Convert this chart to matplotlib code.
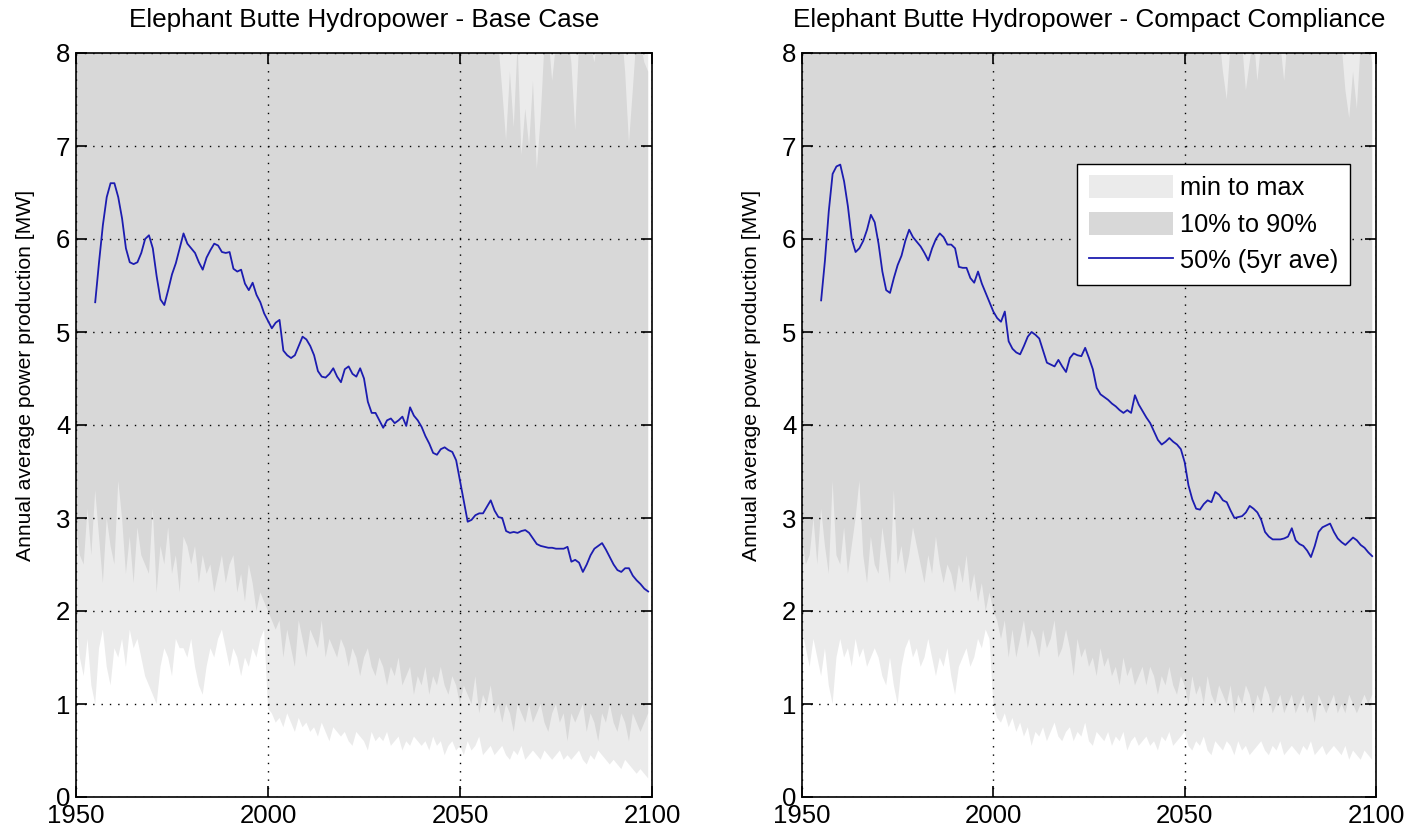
import matplotlib
matplotlib.use('Agg')
import matplotlib.pyplot as plt
from matplotlib.patches import Patch
from matplotlib.lines import Line2D

plt.rcParams['font.family'] = ['Liberation Sans', 'DejaVu Sans']

# 年份
band_years = list(range(1950, 2100))
line_years = list(range(1955, 2100))

# ---------------- Base Case ----------------
base_median = [
    5.32, 5.75, 6.15, 6.45, 6.60,
    6.60, 6.45, 6.22, 5.90, 5.75, 5.73, 5.75, 5.85, 6.00, 6.04,
    5.90, 5.60, 5.35, 5.29, 5.45, 5.62, 5.74, 5.90, 6.06, 5.95,
    5.90, 5.85, 5.75, 5.67, 5.80, 5.88, 5.95, 5.93, 5.86, 5.85,
    5.86, 5.68, 5.65, 5.67, 5.52, 5.45, 5.53, 5.40, 5.32, 5.20,
    5.12, 5.04, 5.10, 5.13, 4.80, 4.75, 4.72, 4.75, 4.85, 4.95,
    4.92, 4.85, 4.75, 4.58, 4.52, 4.51, 4.55, 4.61, 4.52, 4.46,
    4.60, 4.63, 4.55, 4.52, 4.61, 4.50, 4.25, 4.13, 4.13, 4.05,
    3.97, 4.05, 4.07, 4.02, 4.05, 4.09, 3.99, 4.19, 4.10, 4.05,
    3.98, 3.88, 3.80, 3.70, 3.68, 3.74, 3.76, 3.73, 3.71, 3.62,
    3.40, 3.18, 2.96, 2.98, 3.03, 3.05, 3.05, 3.12, 3.19, 3.08,
    3.01, 3.00, 2.86, 2.84, 2.85, 2.84, 2.86, 2.87, 2.84, 2.78,
    2.72, 2.70, 2.69, 2.68, 2.68, 2.67, 2.67, 2.67, 2.69, 2.53,
    2.55, 2.52, 2.42, 2.50, 2.60, 2.67, 2.70, 2.73, 2.66, 2.58,
    2.50, 2.44, 2.42, 2.46, 2.46, 2.38, 2.33, 2.29, 2.24, 2.21,
]
base_min = [
    1.9, 1.5, 1.3, 1.7, 1.2, 1.0, 1.6, 1.8, 1.4, 1.2,
    1.6, 1.5, 1.7, 1.4, 1.8, 1.6, 1.7, 1.5, 1.3, 1.2,
    1.1, 1.0, 1.4, 1.6, 1.5, 1.3, 1.7, 1.6, 1.6, 1.5,
    1.7, 1.4, 1.2, 1.1, 1.4, 1.6, 1.5, 1.7, 1.8, 1.6,
    1.4, 1.6, 1.5, 1.3, 1.5, 1.4, 1.6, 1.5, 1.7, 1.8,
    0.95, 0.9, 0.8, 0.85, 0.75, 0.9, 0.8, 0.7, 0.85, 0.75,
    0.8, 0.7, 0.75, 0.65, 0.8, 0.7, 0.6, 0.75, 0.7, 0.65,
    0.7, 0.6, 0.55, 0.7, 0.65, 0.6, 0.5, 0.7, 0.6, 0.65,
    0.6, 0.7, 0.55, 0.6, 0.65, 0.5, 0.6, 0.55, 0.65, 0.6,
    0.55, 0.6, 0.5, 0.65, 0.55, 0.6, 0.45, 0.55, 0.6, 0.5,
    0.55, 0.45, 0.6, 0.5, 0.55, 0.65, 0.45, 0.5, 0.55, 0.45,
    0.5, 0.55, 0.45, 0.4, 0.5, 0.45, 0.55, 0.4, 0.45, 0.5,
    0.45, 0.4, 0.5, 0.45, 0.4, 0.45, 0.5, 0.4, 0.45, 0.4,
    0.45, 0.5, 0.4, 0.35, 0.45, 0.4, 0.5, 0.45, 0.4, 0.35,
    0.4, 0.35, 0.3, 0.4, 0.35, 0.3, 0.25, 0.3, 0.25, 0.2,
]
base_p10 = [
    2.9, 2.6, 2.5, 3.1, 2.6, 3.3, 2.8, 2.3, 3.0, 2.7,
    2.5, 3.4, 3.0, 2.4, 2.8, 2.3, 2.9, 2.6, 2.5, 2.4,
    3.1, 2.2, 2.7, 2.5, 2.9, 2.4, 2.6, 2.2, 2.8, 2.7,
    2.5, 2.7, 2.3, 2.6, 2.4, 2.5, 2.2, 2.4, 2.6, 2.3,
    2.5, 2.6, 2.2, 2.4, 2.1, 2.5, 2.3, 2.0, 2.2, 2.1,
    2.0, 1.9, 1.8, 1.9, 1.5, 1.8, 1.6, 1.4, 1.9, 1.7,
    1.5, 1.8, 1.7, 1.6, 1.9, 1.5, 1.7, 1.6, 1.5, 1.7,
    1.6, 1.4, 1.6, 1.5, 1.3, 1.5, 1.6, 1.4, 1.3, 1.5,
    1.4, 1.2, 1.4, 1.3, 1.5, 1.2, 1.3, 1.4, 1.1, 1.3,
    1.2, 1.4, 1.1, 1.3, 1.2, 1.4, 1.2, 1.1, 1.3, 1.2,
    1.0, 1.2, 1.1, 1.0, 1.3, 0.9, 1.1, 1.0, 1.2, 0.9,
    1.0, 0.8, 1.0, 0.9, 0.7, 1.0, 0.9, 0.8, 1.0, 0.8,
    0.9, 1.0, 0.8, 0.7, 0.9, 1.0, 0.8, 0.9, 0.6, 0.9,
    0.8, 0.9, 1.0, 0.7, 0.9, 0.8, 0.6, 0.9, 0.8, 1.0,
    0.8, 0.7, 0.9, 0.8, 0.6, 0.9, 0.8, 0.7, 0.8, 0.9,
]
base_p90 = [
    9.1, 8.8, 9.4, 8.9, 9.2, 9.6, 9.0, 8.7, 9.3, 9.5,
    9.8, 9.4, 9.1, 9.6, 9.2, 9.0, 9.3, 8.9, 9.1, 9.4,
    9.0, 8.8, 9.2, 8.9, 9.1, 8.7, 9.0, 9.3, 8.8, 8.9,
    9.1, 8.8, 8.6, 8.9, 9.2, 8.7, 8.9, 8.6, 8.8, 8.5,
    8.7, 8.9, 8.6, 8.8, 8.5, 8.7, 8.6, 8.9, 8.5, 8.7,
    8.6, 8.8, 8.5, 8.7, 8.4, 8.6, 8.5, 8.8, 8.6, 8.4,
    8.7, 8.5, 8.6, 8.3, 8.5, 8.7, 8.4, 8.6, 8.3, 8.5,
    8.4, 8.6, 8.3, 8.5, 8.2, 8.4, 8.6, 8.3, 8.5, 8.2,
    8.4, 8.3, 8.5, 8.2, 8.4, 8.3, 8.1, 8.4, 8.2, 8.3,
    8.2, 8.4, 8.1, 8.3, 8.2, 8.4, 8.1, 8.3, 8.2, 8.1,
    8.3, 8.1, 8.2, 8.4, 8.1, 8.3, 8.2, 8.1, 8.3, 8.1,
    8.1, 7.6, 7.06, 7.8, 7.2, 8.1, 6.9, 7.4, 7.0, 7.7,
    6.75, 7.3, 8.1, 8.2, 7.7, 8.1, 8.3, 8.1, 8.2, 7.9,
    7.17, 8.1, 8.2, 8.3, 8.1, 7.9, 8.2, 8.1, 8.3, 8.2,
    8.1, 8.2, 8.3, 7.8, 7.03, 7.6, 8.2, 8.1, 7.9, 7.8,
]
base_max = [
    11.2, 10.8, 11.5, 10.9, 11.3, 11.8, 11.0, 10.6, 11.4, 11.6,
    12.0, 11.5, 11.1, 11.7, 11.2, 10.9, 11.3, 10.8, 11.0, 11.4,
    10.9, 10.6, 11.1, 10.7, 11.0, 10.5, 10.8, 11.2, 10.6, 10.7,
    10.9, 10.5, 10.3, 10.7, 11.0, 10.4, 10.6, 10.2, 10.5, 10.1,
    10.4, 10.6, 10.2, 10.5, 10.1, 10.3, 10.2, 10.5, 10.0, 10.3,
    10.1, 10.4, 10.0, 10.2, 9.9, 10.1, 10.0, 10.3, 10.1, 9.8,
    10.2, 9.9, 10.1, 9.7, 9.9, 10.2, 9.8, 10.0, 9.7, 9.9,
    9.8, 10.0, 9.6, 9.9, 9.5, 9.8, 10.0, 9.6, 9.9, 9.5,
    9.7, 9.6, 9.9, 9.5, 9.7, 9.6, 9.4, 9.7, 9.5, 9.6,
    9.5, 9.7, 9.4, 9.6, 9.5, 9.7, 9.3, 9.6, 9.4, 9.3,
    9.6, 9.3, 9.5, 9.7, 9.3, 9.6, 9.4, 9.3, 9.5, 9.3,
    9.4, 9.2, 9.3, 9.5, 9.2, 9.4, 9.1, 9.3, 9.2, 9.4,
    9.0, 9.3, 9.4, 9.5, 9.2, 9.4, 9.5, 9.3, 9.4, 9.2,
    9.1, 9.3, 9.4, 9.5, 9.3, 9.2, 9.4, 9.3, 9.5, 9.4,
    9.3, 9.4, 9.5, 9.2, 9.1, 9.2, 9.4, 9.3, 9.2, 9.1,
]

# ---------------- Compact Compliance ----------------
cc_median = [
    5.34, 5.77, 6.30, 6.70, 6.78,
    6.80, 6.62, 6.35, 6.00, 5.86, 5.90, 5.98, 6.10, 6.26, 6.18,
    5.95, 5.65, 5.45, 5.42, 5.58, 5.72, 5.82, 5.98, 6.10, 6.02,
    5.97, 5.92, 5.85, 5.77, 5.90, 6.00, 6.06, 6.02, 5.94, 5.94,
    5.90, 5.70, 5.69, 5.69, 5.58, 5.53, 5.65, 5.52, 5.42, 5.32,
    5.22, 5.15, 5.11, 5.22, 4.90, 4.82, 4.78, 4.76, 4.85, 4.95,
    5.00, 4.97, 4.93, 4.80, 4.67, 4.65, 4.63, 4.70, 4.63, 4.57,
    4.72, 4.77, 4.75, 4.74, 4.83, 4.72, 4.60, 4.40, 4.33, 4.30,
    4.27, 4.23, 4.20, 4.16, 4.13, 4.16, 4.13, 4.32, 4.22, 4.15,
    4.08, 4.02, 3.93, 3.84, 3.79, 3.82, 3.86, 3.82, 3.79, 3.74,
    3.60, 3.35, 3.20, 3.10, 3.09, 3.15, 3.19, 3.17, 3.28, 3.25,
    3.19, 3.17, 3.08, 3.00, 3.01, 3.02, 3.06, 3.13, 3.10, 3.06,
    2.98, 2.85, 2.80, 2.77, 2.77, 2.77, 2.78, 2.80, 2.89, 2.76,
    2.72, 2.70, 2.65, 2.58, 2.70, 2.85, 2.90, 2.92, 2.94, 2.85,
    2.78, 2.74, 2.71, 2.75, 2.79, 2.76, 2.71, 2.68, 2.63, 2.59,
]
cc_min = [
    1.8, 1.6, 1.4, 1.7, 1.5, 1.3, 1.6, 1.2, 1.0, 1.5,
    1.7, 1.5, 1.6, 1.4, 1.7, 1.5, 1.6, 1.4, 1.5, 1.6,
    1.5, 1.3, 1.2, 1.5, 1.2, 1.0, 1.4, 1.6, 1.7, 1.5,
    1.6, 1.4, 1.5, 1.7, 1.5, 1.3, 1.5, 1.4, 1.6, 1.3,
    1.1, 1.4, 1.5, 1.6, 1.4, 1.5, 1.7, 1.6, 1.8, 1.7,
    1.0, 0.85, 0.8, 0.9, 0.75, 0.85, 0.7, 0.8, 0.65, 0.75,
    0.55, 0.7, 0.65, 0.75, 0.6, 0.7, 0.8, 0.65, 0.6, 0.7,
    0.75, 0.6, 0.7, 0.65, 0.8, 0.6, 0.55, 0.7, 0.65, 0.6,
    0.7, 0.55, 0.65, 0.6, 0.7, 0.5, 0.6, 0.65, 0.55, 0.6,
    0.65, 0.55, 0.6, 0.5, 0.65, 0.6, 0.7, 0.55, 0.6, 0.65,
    0.7, 0.55, 0.5, 0.6, 0.55, 0.65, 0.5, 0.45, 0.6, 0.55,
    0.5, 0.6, 0.55, 0.45, 0.6, 0.5, 0.55, 0.45, 0.5, 0.55,
    0.6, 0.5, 0.45, 0.55, 0.5, 0.6, 0.45, 0.5, 0.55, 0.5,
    0.45, 0.55, 0.5, 0.6, 0.45, 0.5, 0.55, 0.45, 0.5, 0.55,
    0.5, 0.45, 0.55, 0.4, 0.5, 0.45, 0.4, 0.5, 0.45, 0.4,
]
cc_p10 = [
    2.8, 2.5, 2.6, 3.0, 2.5, 3.1, 2.7, 2.4, 3.4, 2.6,
    2.5, 2.9, 2.4, 2.7, 3.0, 3.4, 2.6, 2.3, 2.8, 2.5,
    2.4, 2.9, 2.6, 2.3, 3.3, 2.5, 2.7, 2.4, 2.6, 2.9,
    2.7, 2.5, 2.3, 2.6, 2.4, 2.8, 2.5, 2.3, 2.5, 2.4,
    2.2, 2.5, 2.3, 2.6, 2.2, 2.4, 2.1, 2.3, 2.0, 2.2,
    2.0, 1.9, 1.7, 1.9, 1.5, 1.8, 1.5, 1.7, 1.9, 1.6,
    1.8, 1.7, 1.5, 1.8, 1.6, 1.7, 1.9, 1.5, 1.6, 1.8,
    1.6, 1.3, 1.7, 1.5, 1.6, 1.4, 1.5, 1.3, 1.6, 1.4,
    1.5, 1.3, 1.4, 1.2, 1.5, 1.3, 1.4, 1.2, 1.3, 1.4,
    1.2, 1.4, 1.3, 1.1, 1.3, 1.2, 1.4, 1.2, 1.1, 1.3,
    1.2, 1.0, 1.3, 1.1, 1.2, 1.0, 1.3, 1.1, 1.0, 1.2,
    1.1, 1.0, 1.2, 0.9, 1.1, 1.0, 1.2, 1.1, 0.9, 1.1,
    1.0, 1.2, 1.1, 0.9, 1.0, 1.1, 0.9, 1.0, 1.1, 0.9,
    1.0, 1.1, 0.9, 1.0, 0.8, 1.1, 1.0, 0.9, 1.0, 1.1,
    0.9, 1.0, 0.9, 1.1, 1.0, 0.9, 1.0, 1.1, 1.0, 1.1,
]
cc_p90 = [
    9.2, 8.9, 9.5, 9.0, 9.3, 9.7, 9.1, 8.8, 9.4, 9.6,
    9.9, 9.5, 9.2, 9.7, 9.3, 9.1, 9.4, 9.0, 9.2, 9.5,
    9.1, 8.9, 9.3, 9.0, 9.2, 8.8, 9.1, 9.4, 8.9, 9.0,
    9.2, 8.9, 8.7, 9.0, 9.3, 8.8, 9.0, 8.7, 8.9, 8.6,
    8.8, 9.0, 8.7, 8.9, 8.6, 8.8, 8.7, 9.0, 8.6, 8.8,
    8.7, 8.9, 8.6, 8.8, 8.5, 8.7, 8.6, 8.9, 8.7, 8.5,
    8.8, 8.6, 8.7, 8.4, 8.6, 8.8, 8.5, 8.7, 8.4, 8.6,
    8.5, 8.7, 8.4, 8.6, 8.3, 8.5, 8.7, 8.4, 8.6, 8.3,
    8.5, 8.4, 8.6, 8.3, 8.5, 8.4, 8.2, 8.5, 8.3, 8.4,
    8.3, 8.5, 8.2, 8.4, 8.3, 8.5, 8.2, 8.4, 8.3, 8.2,
    8.4, 8.2, 8.3, 8.5, 8.2, 8.4, 8.3, 8.2, 8.4, 8.2,
    7.8, 7.5, 8.1, 8.3, 8.2, 8.1, 7.6, 7.9, 8.2, 7.7,
    8.1, 8.3, 8.2, 8.4, 8.2, 8.1, 7.7, 8.2, 8.3, 8.1,
    8.2, 8.3, 8.1, 8.4, 8.2, 8.3, 8.1, 8.2, 8.3, 8.1,
    8.2, 8.1, 7.6, 7.3, 7.8, 7.4, 8.1, 8.2, 8.1, 7.9,
]
cc_max = [
    11.3, 10.9, 11.6, 11.0, 11.4, 11.9, 11.1, 10.7, 11.5, 11.7,
    12.1, 11.6, 11.2, 11.8, 11.3, 11.0, 11.4, 10.9, 11.1, 11.5,
    11.0, 10.7, 11.2, 10.8, 11.1, 10.6, 10.9, 11.3, 10.7, 10.8,
    11.0, 10.6, 10.4, 10.8, 11.1, 10.5, 10.7, 10.3, 10.6, 10.2,
    10.5, 10.7, 10.3, 10.6, 10.2, 10.4, 10.3, 10.6, 10.1, 10.4,
    10.2, 10.5, 10.1, 10.3, 10.0, 10.2, 10.1, 10.4, 10.2, 9.9,
    10.3, 10.0, 10.2, 9.8, 10.0, 10.3, 9.9, 10.1, 9.8, 10.0,
    9.9, 10.1, 9.7, 10.0, 9.6, 9.9, 10.1, 9.7, 10.0, 9.6,
    9.8, 9.7, 10.0, 9.6, 9.8, 9.7, 9.5, 9.8, 9.6, 9.7,
    9.6, 9.8, 9.5, 9.7, 9.6, 9.8, 9.4, 9.7, 9.5, 9.4,
    9.7, 9.4, 9.6, 9.8, 9.4, 9.7, 9.5, 9.4, 9.6, 9.4,
    9.5, 9.3, 9.4, 9.6, 9.3, 9.5, 9.2, 9.4, 9.3, 9.5,
    9.1, 9.4, 9.5, 9.6, 9.3, 9.5, 9.6, 9.4, 9.5, 9.3,
    9.2, 9.4, 9.5, 9.6, 9.4, 9.3, 9.5, 9.4, 9.6, 9.5,
    9.4, 9.5, 9.6, 9.3, 9.2, 9.3, 9.5, 9.4, 9.3, 9.2,
]

titles = ['Elephant Butte Hydropower - Base Case',
          'Elephant Butte Hydropower - Compact Compliance']
y_label = 'Annual average power production [MW]'
legend_labels = ['min to max', '10% to 90%', '50% (5yr ave)']

LIGHT = '#ebebeb'
DARK = '#d8d8d8'
BLUE = '#1c1cb0'


def draw_panel(ax, v_min, v_p10, v_p90, v_max, median, title):
    # 最小到最大
    ax.fill_between(band_years, v_min, v_max, color=LIGHT, linewidth=0, zorder=1)
    # 10%到90%
    ax.fill_between(band_years, v_p10, v_p90, color=DARK, linewidth=0, zorder=1.1)
    # 中位数(5年均值)
    ax.plot(line_years, median, color=BLUE, linewidth=1.3, zorder=3)

    ax.set_xlim(1950, 2100)
    ax.set_ylim(0, 8)
    ax.set_xticks([1950, 2000, 2050, 2100])
    ax.set_yticks(range(0, 9))
    ax.set_axisbelow(False)
    ax.grid(True, color='black', linestyle=(0, (1, 5)), linewidth=1.0)
    ax.tick_params(direction='in', length=8, width=1.2, top=True, right=True,
                   labelsize=18.5)
    ax.tick_params(axis='x', pad=5)
    ax.tick_params(axis='y', pad=4)
    for s in ax.spines.values():
        s.set_linewidth(1.2)
    ax.set_title(title, fontsize=18.8, pad=19)
    ax.set_ylabel(y_label, fontsize=15.2)
    ax.yaxis.set_label_coords(-0.072, 0.567)


fig = plt.figure(figsize=(14.12, 8.33), dpi=100)
ax1 = fig.add_axes([76 / 1412, 36 / 833, 576 / 1412, 744 / 833])
ax2 = fig.add_axes([802 / 1412, 36 / 833, 574 / 1412, 744 / 833])

draw_panel(ax1, base_min, base_p10, base_p90, base_max, base_median, titles[0])
draw_panel(ax2, cc_min, cc_p10, cc_p90, cc_max, cc_median, titles[1])

handles = [Patch(facecolor=LIGHT, edgecolor='none'),
           Patch(facecolor=DARK, edgecolor='none'),
           Line2D([], [], color=BLUE, linewidth=1.3)]
leg = ax2.legend(handles, legend_labels, loc='upper right',
                 bbox_to_anchor=(0.955, 0.851), borderaxespad=0,
                 fontsize=18.3, handlelength=3.3, handleheight=1.0,
                 handletextpad=0.3, labelspacing=0.45, borderpad=0.45,
                 fancybox=False, framealpha=1)
leg.get_frame().set_edgecolor('black')
leg.get_frame().set_linewidth(1.0)
leg.set_zorder(5)

fig.savefig('out.png', dpi=100, facecolor='white')
